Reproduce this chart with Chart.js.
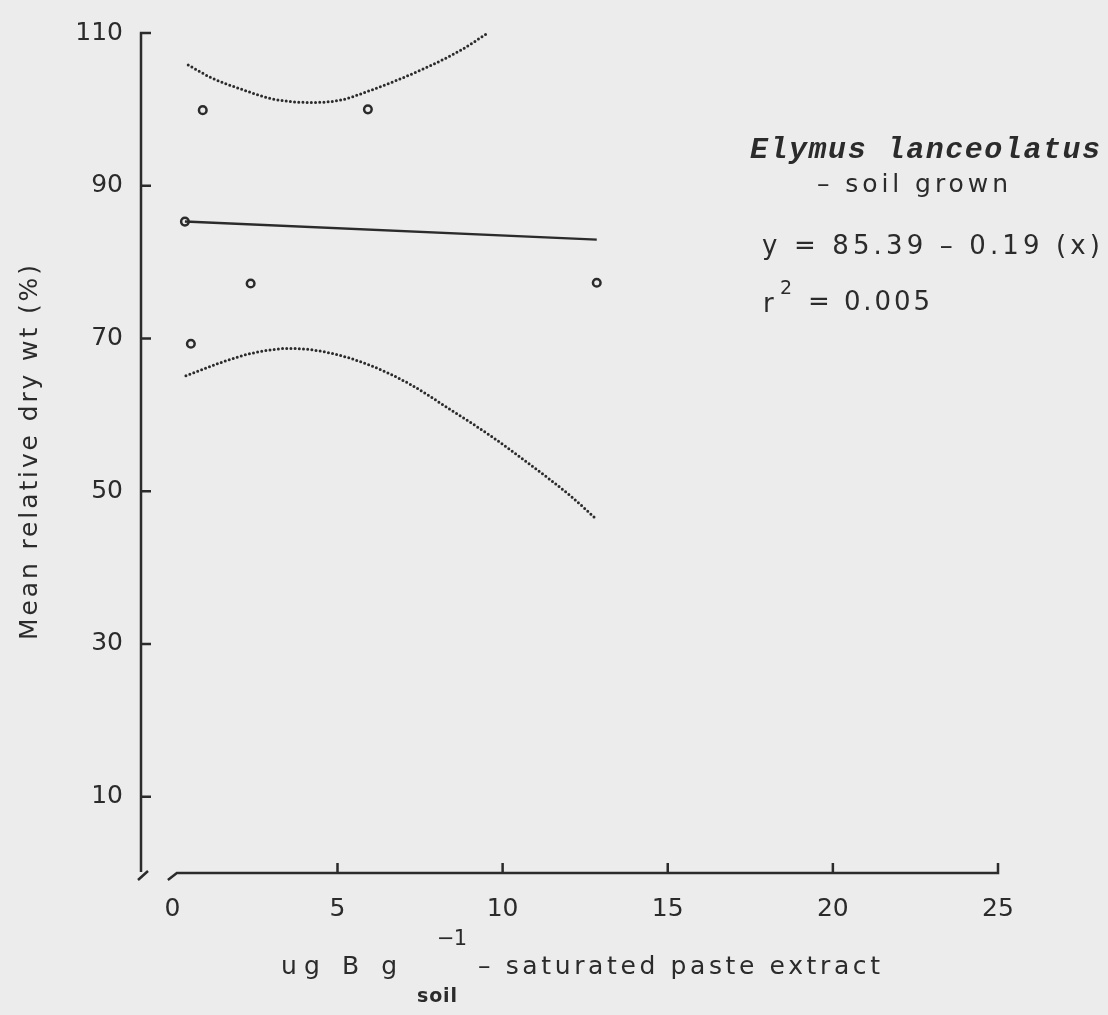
<!DOCTYPE html>
<html>
<head>
<meta charset="utf-8">
<title>Elymus lanceolatus - soil grown</title>
<script src="https://cdn.jsdelivr.net/npm/chart.js@4.4.1/dist/chart.umd.min.js"></script>
<style>
  body { margin: 0; background: #ececec; }
  #contenedor { width: 1108px; height: 1015px; }
</style>
</head>
<body>
<div id="contenedor"><canvas id="myChart"></canvas></div>
<script>
// ticks
const xTicks = [0, 5, 10, 15, 20, 25];
const yTicks = [10, 30, 50, 70, 90, 110];

// observed means
const obsX = [0.38, 0.56, 0.92, 2.37, 5.92, 12.85];
const obsY = [85.3, 69.3, 99.9, 77.2, 100.0, 77.3];

// fitted line y = 85.39 - 0.19 (x)
const intercept = 85.39;
const slope = -0.19;
const fitX = [0.38, 12.85];

// confidence limits (dotted)
const upperX = [0.48, 1.2, 2.05, 3.0, 4.17, 5.08, 5.88, 6.79, 7.8, 8.71, 9.52];
const upperY = [105.8, 104.1, 102.7, 101.4, 100.9, 101.2, 102.3, 103.8, 105.7, 107.7, 109.9];
const lowerX = [0.41, 1.44, 2.45, 3.56, 4.77, 5.98, 7.2, 8.41, 9.62, 10.83, 12.05, 12.85];
const lowerY = [65.1, 66.8, 68.1, 68.7, 68.1, 66.5, 64.0, 60.7, 57.3, 53.5, 49.4, 46.3];

const INK = "#2b2b2b";
const FONT = "DejaVu Sans";

const toPoints = (xs, ys) => xs.map((x, i) => ({ x, y: ys[i] }));

// spreads the letters so the text runs from left to right
function drawSpread(ctx, text, left, right, midY, font) {
  ctx.font = font;
  ctx.letterSpacing = "0px";
  const natural = ctx.measureText(text).width;
  const gap = text.length > 1 ? (right - left - natural) / (text.length - 1) : 0;
  ctx.letterSpacing = `${gap}px`;
  ctx.textAlign = "left";
  ctx.textBaseline = "middle";
  ctx.fillText(text, left, midY);
  ctx.letterSpacing = "0px";
}

const fondo = {
  id: "fondo",
  beforeDraw(chart) {
    const { ctx, width, height } = chart;
    ctx.save();
    ctx.fillStyle = "#ececec";
    ctx.fillRect(0, 0, width, height);
    ctx.restore();
  },
};

// broken axes, inward ticks and all the lettering
const ejes = {
  id: "ejes",
  afterDraw(chart) {
    const { ctx, scales: { x, y } } = chart;
    const left = x.left;
    const bottom = y.getPixelForValue(0);
    const top = y.getPixelForValue(110);
    const x0 = x.getPixelForValue(0);
    const xEnd = x.getPixelForValue(25);

    ctx.save();
    ctx.strokeStyle = INK;
    ctx.lineWidth = 2.5;
    ctx.lineCap = "butt";

    ctx.beginPath();
    // y axis with break mark
    ctx.moveTo(left, top);
    ctx.lineTo(left, bottom - 1);
    ctx.moveTo(left + 7, bottom - 2);
    ctx.lineTo(left - 3, bottom + 7);
    yTicks.forEach((v) => {
      const py = y.getPixelForValue(v);
      ctx.moveTo(left - 1.2, py);
      ctx.lineTo(left + 10, py);
    });
    // x axis with break mark
    ctx.moveTo(x0 - 4.5, bottom + 7);
    ctx.lineTo(x0 + 4.5, bottom);
    ctx.lineTo(xEnd + 1.2, bottom);
    xTicks.slice(1).forEach((v) => {
      const px = x.getPixelForValue(v);
      ctx.moveTo(px, bottom + 1.2);
      ctx.lineTo(px, bottom - 10);
    });
    ctx.stroke();

    ctx.fillStyle = INK;

    // y title
    ctx.save();
    ctx.translate(30, 640);
    ctx.rotate(-Math.PI / 2);
    drawSpread(ctx, "Mean relative dry wt (%)", 0, 375, 0, `25px "${FONT}"`);
    ctx.restore();

    // x title
    drawSpread(ctx, "ug B g", 281, 397, 967, `25px "${FONT}"`);
    drawSpread(ctx, "\u22121", 437, 467, 940, `21px "${FONT}"`);
    drawSpread(ctx, "soil", 417, 457, 997, `bold 19px "${FONT}"`);
    drawSpread(ctx, "\u2013 saturated paste extract", 478, 880, 967, `25px "${FONT}"`);

    // species and fit
    drawSpread(ctx, "Elymus lanceolatus", 750, 1100, 150, `bold italic 30px "Liberation Mono"`);
    drawSpread(ctx, "\u2013 soil grown", 817, 1008, 185, `25px "${FONT}"`);
    drawSpread(ctx, "y = 85.39 \u2013 0.19 (x)", 762, 1100, 247, `26px "${FONT}"`);
    drawSpread(ctx, "r", 763, 773, 305, `26px "${FONT}"`);
    drawSpread(ctx, "2", 780, 790, 289, `19px "${FONT}"`);
    drawSpread(ctx, "= 0.005", 808, 930, 303, `26px "${FONT}"`);

    ctx.restore();
  },
};

function pintarGrafico() {
  const ctx = document.getElementById("myChart");

  const fitY = fitX.map((v) => intercept + slope * v);

  const dotted = {
    showLine: true,
    cubicInterpolationMode: "monotone",
    borderColor: INK,
    borderWidth: 3,
    borderDash: [0, 4.2],
    borderCapStyle: "round",
    pointRadius: 0,
  };

  const cfg = {
    type: "scatter",
    data: {
      datasets: [
        {
          label: "Observed",
          data: toPoints(obsX, obsY),
          pointRadius: 3.8,
          pointBorderWidth: 2.5,
          pointBorderColor: INK,
          pointBackgroundColor: "rgba(0,0,0,0)",
        },
        {
          label: "Fit",
          data: toPoints(fitX, fitY),
          showLine: true,
          borderColor: INK,
          borderWidth: 2.4,
          pointRadius: 0,
        },
        {
          label: "Upper limit",
          data: toPoints(upperX, upperY),
          ...dotted,
        },
        {
          label: "Lower limit",
          data: toPoints(lowerX, lowerY),
          ...dotted,
        },
      ],
    },
    options: {
      responsive: true,
      maintainAspectRatio: false,
      animation: false,
      layout: {
        padding: { top: 22, right: 110, bottom: 0, left: 0 },
      },
      plugins: {
        legend: { display: false },
        tooltip: { enabled: false },
      },
      scales: {
        x: {
          type: "linear",
          min: -0.95,
          max: 25,
          afterBuildTicks: (scale) => {
            scale.ticks = xTicks.map((v) => ({ value: v }));
          },
          afterFit: (scale) => {
            scale.height = 142;
          },
          grid: { display: false, drawTicks: false },
          border: { display: false },
          ticks: {
            padding: 21,
            maxRotation: 0,
            color: INK,
            font: { family: FONT, size: 25 },
          },
        },
        y: {
          type: "linear",
          min: 0,
          max: 110,
          afterBuildTicks: (scale) => {
            scale.ticks = yTicks.map((v) => ({ value: v }));
          },
          afterFit: (scale) => {
            scale.width = 141;
          },
          grid: { display: false, drawTicks: false },
          border: { display: false },
          ticks: {
            padding: 18,
            color: INK,
            font: { family: FONT, size: 25 },
          },
        },
      },
    },
    plugins: [fondo, ejes],
  };

  new Chart(ctx, cfg);
}

pintarGrafico();
</script>
</body>
</html>
